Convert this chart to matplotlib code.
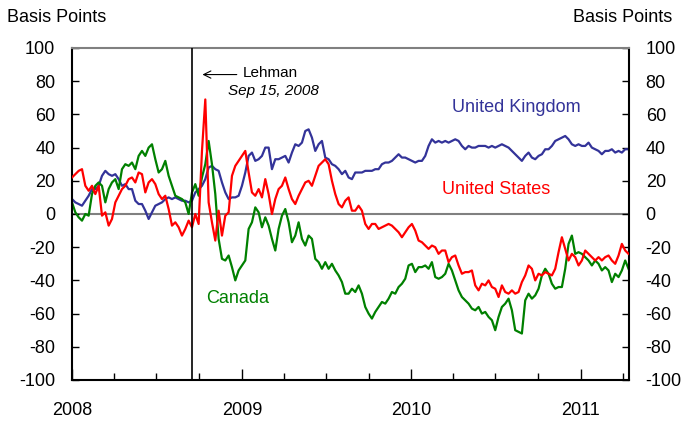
import numpy as np
import pandas as pd
import matplotlib
matplotlib.use('Agg')
import matplotlib.pyplot as plt
import matplotlib.dates as mdates

plt.rcParams['font.family'] = 'Liberation Sans'
plt.rcParams['font.size'] = 13
plt.rcParams['axes.unicode_minus'] = False

# Weekly observations, Jan 2008 to mid-April 2011 (basis points)
dates = pd.date_range('2008-01-01', '2011-04-14', periods=168)

uk = [9, 7, 6, 5, 8, 11, 15, 15, 17, 23,
      26, 24, 23, 24, 21, 17, 18, 15, 15, 8,
      6, 6, 2, -3, 1, 5, 6, 7, 9, 10,
      9, 10, 9, 8, 8, 7, 8, 13, 15, 17,
      21, 28, 29, 27, 26, 19, 13, 9, 10, 10,
      11, 17, 25, 35, 37, 32, 33, 35, 40, 40,
      27, 33, 33, 34, 35, 31, 37, 42, 41, 43,
      50, 51, 46, 38, 42, 44, 34, 33, 30, 29,
      27, 24, 26, 22, 21, 25, 25, 25, 26, 26,
      26, 27, 27, 30, 31, 31, 32, 34, 36, 34,
      34, 33, 32, 31, 32, 32, 35, 41, 45, 43,
      44, 43, 44, 43, 44, 45, 44, 41, 39, 41,
      40, 40, 41, 41, 41, 40, 41, 40, 41, 42,
      41, 40, 38, 36, 34, 32, 35, 37, 34, 33,
      35, 36, 39, 39, 41, 44, 45, 46, 47, 45,
      42, 41, 42, 41, 41, 43, 40, 39, 38, 36,
      38, 38, 39, 37, 38, 37, 39, 39]

us = [22, 24, 26, 27, 17, 14, 17, 12, 17, -1,
      1, -7, -3, 7, 11, 15, 17, 21, 22, 19,
      25, 24, 13, 19, 21, 18, 12, 9, 11, 3,
      -7, -5, -8, -13, -9, -4, -8, 0, -6, 38,
      69, 7, -5, -16, 2, -13, -1, 1, 23, 29,
      32, 35, 38, 25, 13, 11, 15, 10, 21, 12,
      0, 9, 15, 17, 22, 15, 9, 6, 11, 15,
      19, 20, 17, 23, 29, 31, 33, 30, 20, 12,
      6, 4, 8, 10, 2, 2, 5, 2, -6, -9,
      -6, -6, -9, -8, -7, -6, -7, -9, -11, -14,
      -11, -8, -6, -10, -16, -17, -19, -21, -19, -20,
      -24, -22, -22, -29, -26, -25, -31, -36, -35, -35,
      -34, -43, -46, -42, -43, -40, -44, -45, -50, -43,
      -47, -48, -46, -48, -47, -41, -37, -31, -33, -40,
      -36, -37, -35, -36, -37, -33, -23, -14, -21, -28,
      -24, -26, -31, -28, -22, -24, -26, -28, -26, -28,
      -26, -25, -28, -30, -25, -18, -22, -24]

canada = [7, 1, -2, -4, 0, -1, 12, 17, 19, 17,
          7, 15, 19, 21, 15, 27, 30, 29, 31, 27,
          35, 38, 35, 40, 42, 33, 25, 27, 32, 23,
          17, 11, 10, 9, 7, 0, 13, 18, 11, 22,
          30, 44, 30, 12, -15, -27, -28, -25, -32, -40,
          -34, -31, -28, -9, -5, 4, 1, -8, -2, -7,
          -15, -22, -9, -1, 3, -5, -17, -13, -5, -15,
          -19, -13, -15, -27, -29, -33, -29, -33, -30, -34,
          -37, -41, -48, -48, -45, -47, -43, -48, -56, -60,
          -63, -59, -56, -53, -54, -51, -47, -48, -44, -42,
          -39, -31, -30, -35, -32, -32, -31, -33, -29, -38,
          -39, -38, -36, -30, -34, -40, -46, -50, -52, -54,
          -57, -58, -56, -60, -59, -62, -64, -70, -62, -56,
          -54, -51, -58, -70, -71, -72, -52, -48, -51, -49,
          -45, -37, -33, -36, -42, -45, -44, -44, -33, -18,
          -13, -24, -23, -24, -26, -28, -31, -28, -30, -34,
          -32, -34, -41, -36, -38, -34, -28, -33]

lehman = pd.Timestamp('2008-09-15')

fig = plt.figure(figsize=(6.84, 4.22), dpi=100)
ax = fig.add_subplot(111)
fig.subplots_adjust(left=72/684, right=629/684, bottom=1-380/422, top=1-48/422)

ax.axhline(0, color='#808080', lw=1.5, zorder=1)
ax.axvline(lehman, color='black', lw=1.2, zorder=4)

ax.plot(dates, uk, color='#333399', lw=1.6, zorder=2)
ax.plot(dates, canada, color='#008000', lw=1.6, zorder=2)
ax.plot(dates, us, color='#ff0000', lw=1.6, zorder=3)

ax.set_xlim(pd.Timestamp('2008-01-01'), pd.Timestamp('2011-04-15'))
ax.set_ylim(-100, 100)
ax.set_yticks(np.arange(-100, 101, 20))

ax.xaxis.set_major_locator(mdates.YearLocator())
ax.xaxis.set_major_formatter(mdates.DateFormatter('%Y'))
ax.xaxis.set_minor_locator(mdates.MonthLocator(bymonth=[4, 7, 10]))

ax.tick_params(axis='y', which='both', direction='in', left=True, right=True,
               labelleft=True, labelright=True, length=5, width=1, pad=12)
ax.tick_params(axis='x', which='major', direction='in', length=8, width=1, pad=16)
ax.tick_params(axis='x', which='minor', direction='in', length=5, width=1)

for side in ['left', 'right', 'bottom']:
    ax.spines[side].set_linewidth(1.5)
ax.spines['top'].set_color('#808080')
ax.spines['top'].set_linewidth(1.5)

# Series labels
ax.text(pd.Timestamp('2010-08-16'), 64, 'United Kingdom', color='#333399',
        ha='center', va='center')
ax.text(pd.Timestamp('2010-07-03'), 14.5, 'United States', color='#ff0000',
        ha='center', va='center')
ax.text(pd.Timestamp('2008-12-22'), -51, 'Canada', color='#008000',
        ha='center', va='center')

# Lehman marker
ax.annotate('', xy=(pd.Timestamp('2008-10-02'), 84), xytext=(pd.Timestamp('2008-12-27'), 84),
            arrowprops=dict(arrowstyle='->', color='black', lw=0.8))
ax.text(pd.Timestamp('2009-01-02'), 85, 'Lehman', fontsize=11, ha='left', va='center')
ax.text(pd.Timestamp('2009-03-10'), 74, 'Sep 15, 2008', fontsize=11, style='italic',
        ha='center', va='center')

fig.text(7/684, 1-18/422, 'Basis Points', ha='left', va='center')
fig.text(672/684, 1-18/422, 'Basis Points', ha='right', va='center')

fig.savefig('out.png', dpi=100)
